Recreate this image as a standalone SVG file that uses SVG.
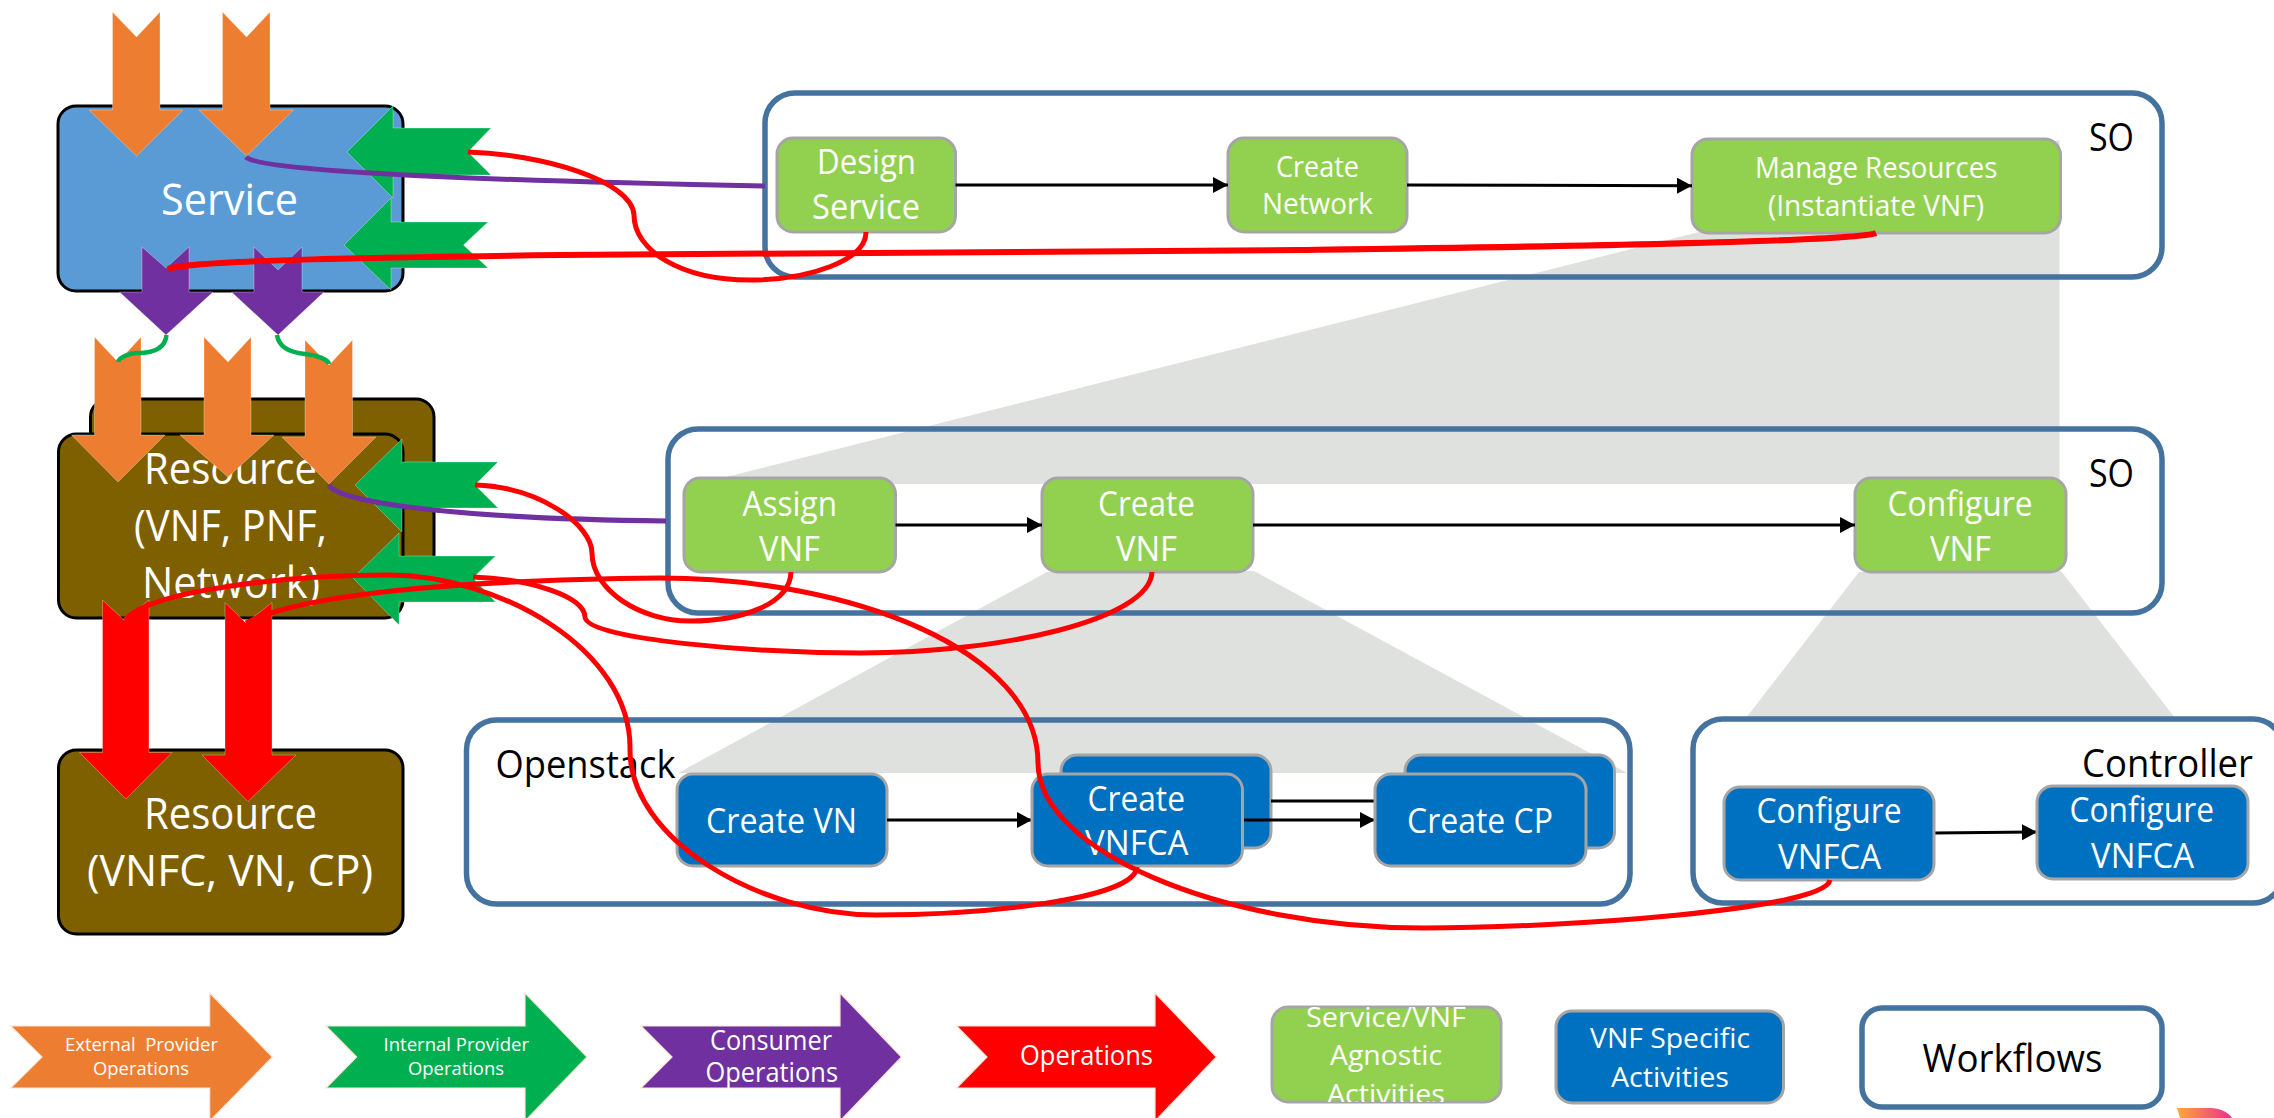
<svg xmlns="http://www.w3.org/2000/svg" width="2274" height="1118" viewBox="0 0 2274 1118">
<style>
text{font-family:"Open Sans","Noto Sans","Liberation Sans",sans-serif;white-space:pre}
.w{fill:#fff}.k{fill:#000}
.s40{font-size:44px}.s32{font-size:35px}.s27{font-size:29px}.s36{font-size:39px}.s25{font-size:27px}.s16{font-size:18px}
.frame{fill:none;stroke:#44739f;stroke-width:5.5}
.grn,.blu{stroke:#a5a5a5;stroke-width:3}
.grn{fill:#92d14f}.blu{fill:#0070c0}
.big{stroke:#000;stroke-width:3}
.ser{fill:#5b9bd5}.bro{fill:#7f6000}
.poly{fill:#dfe1de}
.or{fill:#ed7d31}.gr{fill:#00b050}.pu{fill:#7030a0}.re{fill:#f00}
.ar{stroke:#fff;stroke-opacity:.3;stroke-width:1}
.lg{stroke:#fbe5d6;stroke-width:1.2}
.ln{fill:none;stroke:#000;stroke-width:3}
.rd{fill:none;stroke:#f00;stroke-width:5}
.pl{fill:none;stroke:#7030a0;stroke-width:5}
.gl{fill:none;stroke:#00b050;stroke-width:4.5}
</style>
<defs>
<marker id="ah" markerUnits="userSpaceOnUse" markerWidth="16" markerHeight="18" refX="15" refY="8" orient="auto"><path d="M0 0L15 8L0 16Z" fill="#000"/></marker>
<clipPath id="lgc"><rect x="1272" y="1007" width="229" height="95"/></clipPath>
<linearGradient id="logo" x1="0" x2="1" y1="0" y2="0"><stop offset="0" stop-color="#ffa73a"/><stop offset="1" stop-color="#e8318f"/></linearGradient>
</defs>

<g id="zoom-shading">
<polygon class="poly" points="1699,232 2059.5,140 2059.5,484 698,484"/>
<polygon class="poly" points="1047,572 1254,571 1627,773 678,773"/>
<polygon class="poly" points="1859,572 2061,571 2175,718 1746,718"/>
</g>

<g id="so-workflow-1">
<rect class="frame" x="765" y="93" width="1397" height="184" rx="30"/>
<text class="k s36" x="2089" y="151" textLength="45" lengthAdjust="spacingAndGlyphs">SO</text>
</g>
<g id="so-workflow-2">
<rect class="frame" x="668" y="429" width="1494" height="184" rx="30"/>
<text class="k s36" x="2089" y="487" textLength="45" lengthAdjust="spacingAndGlyphs">SO</text>
</g>
<g id="openstack-workflow">
<rect class="frame" x="466.5" y="720" width="1163.500" height="184" rx="30"/>
<text class="k s36" x="495.500" y="778" textLength="180" lengthAdjust="spacingAndGlyphs">Openstack</text>
</g>
<g id="controller-workflow">
<rect class="frame" x="1693" y="719" width="590" height="184" rx="30"/>
<text class="k s36" x="2082" y="777" textLength="171" lengthAdjust="spacingAndGlyphs">Controller</text>
</g>

<g id="service">
<rect class="ser big" x="58" y="106" width="345" height="185" rx="18"/>
<text class="w s40" x="161" y="215" textLength="137" lengthAdjust="spacingAndGlyphs">Service</text>
</g>
<g id="resource-vnf">
<rect class="bro big" x="90.500" y="399" width="343.500" height="191" rx="18"/>
<rect class="bro big" x="58.500" y="434" width="344.500" height="184" rx="18"/>
<text class="w s40" x="144" y="484" textLength="173" lengthAdjust="spacingAndGlyphs">Resource</text>
<text class="w s40" x="134" y="541" textLength="193" lengthAdjust="spacingAndGlyphs">(VNF, PNF,</text>
<text class="w s40" x="142" y="598" textLength="178" lengthAdjust="spacingAndGlyphs">Network)</text>
</g>
<g id="resource-vnfc">
<rect class="bro big" x="58.500" y="750" width="344.500" height="184" rx="18"/>
<text class="w s40" x="144" y="829" textLength="173" lengthAdjust="spacingAndGlyphs">Resource</text>
<text class="w s40" x="87" y="886" textLength="286" lengthAdjust="spacingAndGlyphs">(VNFC, VN, CP)</text>
</g>

<g id="design-service">
<rect class="grn" x="777" y="138" width="178.500" height="94" rx="16"/>
<text class="w s32" x="817" y="174" textLength="99" lengthAdjust="spacingAndGlyphs">Design</text>
<text class="w s32" x="812" y="219" textLength="108" lengthAdjust="spacingAndGlyphs">Service</text>
</g>
<g id="create-network">
<rect class="grn" x="1228" y="138" width="179" height="94" rx="16"/>
<text class="w s27" x="1276" y="177" textLength="83" lengthAdjust="spacingAndGlyphs">Create</text>
<text class="w s27" x="1262" y="214" textLength="111" lengthAdjust="spacingAndGlyphs">Network</text>
</g>
<g id="manage-resources">
<rect class="grn" x="1692" y="139" width="368.500" height="94" rx="16"/>
<text class="w s27" x="1755" y="178" textLength="242.500" lengthAdjust="spacingAndGlyphs">Manage Resources</text>
<text class="w s27" x="1768" y="216" textLength="216" lengthAdjust="spacingAndGlyphs">(Instantiate VNF)</text>
</g>
<g id="assign-vnf">
<rect class="grn" x="684" y="478" width="211.500" height="94" rx="16"/>
<text class="w s32" x="742.500" y="516" textLength="94.500" lengthAdjust="spacingAndGlyphs">Assign</text>
<text class="w s32" x="759" y="561" textLength="61" lengthAdjust="spacingAndGlyphs">VNF</text>
</g>
<g id="create-vnf">
<rect class="grn" x="1042" y="478" width="211" height="94" rx="16"/>
<text class="w s32" x="1098" y="516" textLength="97" lengthAdjust="spacingAndGlyphs">Create</text>
<text class="w s32" x="1116" y="561" textLength="61" lengthAdjust="spacingAndGlyphs">VNF</text>
</g>
<g id="configure-vnf">
<rect class="grn" x="1855" y="478" width="211" height="94" rx="16"/>
<text class="w s32" x="1887.500" y="516" textLength="145" lengthAdjust="spacingAndGlyphs">Configure</text>
<text class="w s32" x="1930" y="561" textLength="61" lengthAdjust="spacingAndGlyphs">VNF</text>
</g>
<g id="create-vn">
<rect class="blu" x="677" y="774" width="210" height="92" rx="16"/>
<text class="w s32" x="706" y="833" textLength="151" lengthAdjust="spacingAndGlyphs">Create VN</text>
</g>
<g id="create-vnfca-back">
<rect class="blu" x="1061" y="755" width="210" height="93" rx="16"/>
</g>
<g id="create-cp-back">
<rect class="blu" x="1405" y="755" width="209.500" height="93" rx="16"/>
</g>

<g id="connectors-flow">
<path class="ln" d="M955.500 185H1228" marker-end="url(#ah)"/>
<path class="ln" d="M1407 185L1692 185.700" marker-end="url(#ah)"/>
<path class="ln" d="M895.500 525H1042" marker-end="url(#ah)"/>
<path class="ln" d="M1253 525H1855" marker-end="url(#ah)"/>
<path class="ln" d="M887 820H1032" marker-end="url(#ah)"/>
<path class="ln" d="M1271 801H1375"/>
<path class="ln" d="M1243 820H1375" marker-end="url(#ah)"/>
<path class="ln" d="M1934 833L2037 832" marker-end="url(#ah)"/>
</g>

<g id="create-vnfca">
<rect class="blu" x="1032" y="774" width="210.500" height="92" rx="16"/>
<text class="w s32" x="1087.500" y="811" textLength="97.500" lengthAdjust="spacingAndGlyphs">Create</text>
<text class="w s32" x="1085" y="855" textLength="103.500" lengthAdjust="spacingAndGlyphs">VNFCA</text>
</g>
<g id="create-cp">
<rect class="blu" x="1375" y="774" width="211" height="92" rx="16"/>
<text class="w s32" x="1407" y="833" textLength="146" lengthAdjust="spacingAndGlyphs">Create CP</text>
</g>
<g id="configure-vnfca-1">
<rect class="blu" x="1724" y="787" width="210" height="93" rx="16"/>
<text class="w s32" x="1756.500" y="823" textLength="145" lengthAdjust="spacingAndGlyphs">Configure</text>
<text class="w s32" x="1778" y="869" textLength="103" lengthAdjust="spacingAndGlyphs">VNFCA</text>
</g>
<g id="configure-vnfca-2">
<rect class="blu" x="2037" y="786" width="211" height="93" rx="16"/>
<text class="w s32" x="2069.500" y="822" textLength="144.500" lengthAdjust="spacingAndGlyphs">Configure</text>
<text class="w s32" x="2091" y="868" textLength="103" lengthAdjust="spacingAndGlyphs">VNFCA</text>
</g>

<g id="interface-arrows">
<polygon class="or ar" points="112.500,12 136.500,37 160,12 160,110 183,110 136.500,156 89,110 112.500,110"/>
<polygon class="or ar" points="222.500,12 246.500,37 270,12 270,110 293.500,110 246.500,156 199,110 222.500,110"/>
<polygon class="gr ar" points="347,152 393,106 393,128 491,128 468,152 491,175 393,175 393,198"/>
<polygon class="gr ar" points="344,245 391,198 391,222 488,222 463.500,245 488,268 391,268 391,290"/>
<polygon class="pu ar" points="142,247 166,268 189,247 189,292 213,292 166,335 119.500,292 142,292"/>
<polygon class="pu ar" points="254,247 278,270 302,247 302,292 324,292 278,335 231.500,292 254,292"/>
<polygon class="or ar" points="94.500,337 118,362 141,337 141,435 165,435 118,482 71.500,435 94.500,435"/>
<polygon class="or ar" points="204,337 228,362 251,337 251,435 274,435 228,477 180,435 204,435"/>
<polygon class="or ar" points="305,340 329,365 352.500,340 352.500,437 376,437 329,484 282,437 305,437"/>
<polygon class="gr ar" points="355,485 402,439 402,462 498,462 475,485 498,508 402,508 402,532"/>
<polygon class="gr ar" points="353,578 399,533 399,556 495.500,556 473,578 495.500,602 399,602 399,625"/>
<polygon class="re ar" points="102.500,600 124,620 149,600 149,752.500 172,752.500 126,799 79.500,752.500 102.500,752.500"/>
<polygon class="re ar" points="225,602.500 246,623 272,602.500 272,755 296,755 248,801.500 202,755 225,755"/>
</g>

<g id="connectors-links">
<path class="gl" d="M166.500 335C165 350 150 353 138 353C128 353 119 358 118 362"/>
<path class="gl" d="M277 335C279 350 295 353 305 354C318 355 328 360 329 364"/>
<path class="pl" d="M246 157C260 172 500 181 765 186"/>
<path class="pl" d="M329 485C340 505 480 519 666 521"/>
<path class="rd" d="M468 152C540 154 632 180 634 215C634 250 680 280 750 280C810 280 866 260 866 232"/>
<path class="rd" style="stroke-width:6" d="M1876 233C1855 243 1450 248 1300 250C1000 252 700 254 560 255C400 257 190 260 168 269"/>
<path class="rd" d="M475 485C540 487 592 525 592 553C592 590 640 621 690 621C740 621 790 605 791 572"/>
<path class="rd" d="M473 577C530 579 584 596 585 617C586 640 760 653 861 653C1000 653 1150 620 1152 572"/>
<path class="rd" d="M125 620C150 590 290 575 388 575C500 575 632 650 630 750C630 840 760 915 876 915C980 915 1135 900 1137 867"/>
<path class="rd" d="M246 623C300 595 450 580 660 578C850 578 1038 650 1038 763C1038 850 1220 928 1424 928C1560 928 1825 910 1830 880"/>
</g>

<g id="legend-external">
<polygon class="or lg" points="10.700,1026 209.700,1026 209.700,993 272.400,1057 209.700,1121 209.700,1088 10.700,1088 42,1057"/>
<text class="w s16" x="65" y="1051" textLength="153" lengthAdjust="spacingAndGlyphs">External  Provider</text>
<text class="w s16" x="93" y="1075" textLength="96" lengthAdjust="spacingAndGlyphs">Operations</text>
</g>
<g id="legend-internal">
<polygon class="gr lg" points="326,1026 525,1026 525,993 587,1057 525,1121 525,1088 326,1088 356.600,1057"/>
<text class="w s16" x="383.500" y="1051" textLength="145.500" lengthAdjust="spacingAndGlyphs">Internal Provider</text>
<text class="w s16" x="408" y="1075" textLength="96" lengthAdjust="spacingAndGlyphs">Operations</text>
</g>
<g id="legend-consumer">
<polygon class="pu lg" points="641,1026 840,1026 840,993 901.500,1057 840,1121 840,1088 641,1088 672,1057"/>
<text class="w s25" x="710" y="1050" textLength="122" lengthAdjust="spacingAndGlyphs">Consumer</text>
<text class="w s25" x="705.500" y="1082" textLength="132.500" lengthAdjust="spacingAndGlyphs">Operations</text>
</g>
<g id="legend-operations">
<polygon class="re lg" points="956.600,1026 1155,1026 1155,993 1216.400,1057 1155,1121 1155,1088 956.600,1088 987,1057"/>
<text class="w s25" x="1020" y="1065" textLength="133" lengthAdjust="spacingAndGlyphs">Operations</text>
</g>
<g id="legend-agnostic">
<rect class="grn" x="1272" y="1007" width="229" height="95" rx="16"/>
<g clip-path="url(#lgc)">
<text class="w s25" x="1306" y="1027" textLength="160" lengthAdjust="spacingAndGlyphs">Service/VNF</text>
<text class="w s25" x="1330" y="1065" textLength="112" lengthAdjust="spacingAndGlyphs">Agnostic</text>
<text class="w s25" x="1327" y="1104" textLength="118" lengthAdjust="spacingAndGlyphs">Activities</text>
</g>
</g>
<g id="legend-specific">
<rect class="blu" x="1556" y="1011" width="227.500" height="92" rx="16"/>
<text class="w s25" x="1590" y="1048" textLength="160" lengthAdjust="spacingAndGlyphs">VNF Specific</text>
<text class="w s25" x="1611" y="1087" textLength="118" lengthAdjust="spacingAndGlyphs">Activities</text>
</g>
<g id="legend-workflows">
<rect class="frame" x="1862" y="1008" width="300" height="99" rx="20"/>
<text class="k s36" x="1922.500" y="1072" textLength="180" lengthAdjust="spacingAndGlyphs">Workflows</text>
</g>
<path id="corner-mark" d="M2177 1108H2212C2222 1109 2229 1113 2232 1118H2180Z" fill="url(#logo)"/>
</svg>
